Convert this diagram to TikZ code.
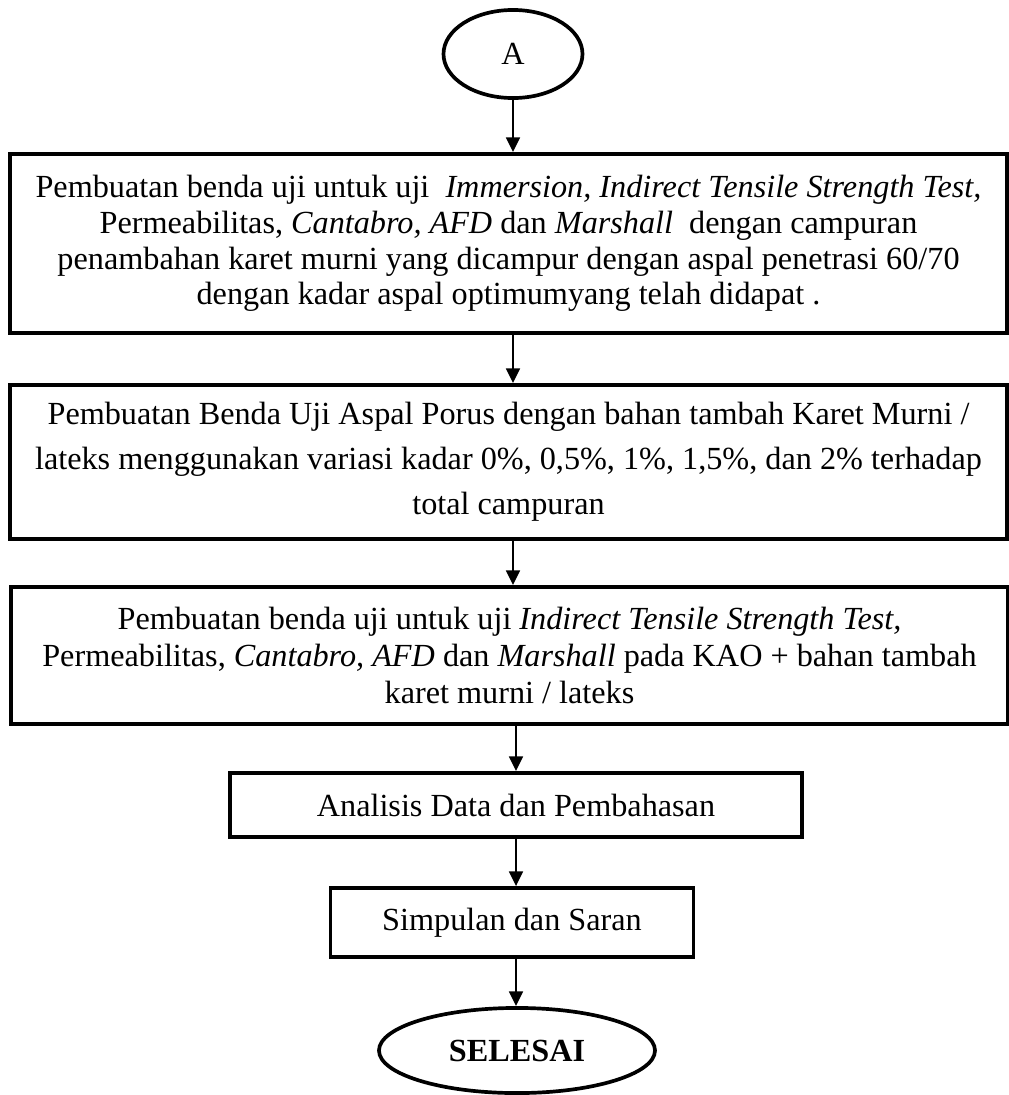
\documentclass[tikz,border=0pt]{standalone}
\usepackage{fontspec}
\setmainfont{Liberation Serif}
\usetikzlibrary{shapes.geometric,arrows.meta}

\begin{document}
\begin{tikzpicture}[x=0.4065pt,y=-0.4065pt]
	\tikzset{proses/.style={draw,line width=1.5pt,align=center,inner sep=0pt,font=\fontsize{13.1}{14.5}\selectfont}}
	\tikzset{terminal/.style={draw,ellipse,line width=1.5pt,inner sep=0pt,font=\fontsize{13.1}{14.5}\selectfont}}
	\tikzset{panah/.style={line width=1.2pt,-{Triangle[length=6pt,width=5.5pt]}}}
	\useasboundingbox (0,0) rectangle (1009,1095);
	\node[terminal,minimum width=56.5pt,minimum height=35.8pt] (mulai) at (513,54) {A};
	\node[proses,minimum width=405.3pt,minimum height=72.8pt] (uji1) at (508.5,243.5) {Pembuatan benda uji untuk uji\ \ \textit{Immersion, Indirect Tensile Strength Test,}\\ Permeabilitas, \textit{Cantabro, AFD} dan \textit{Marshall}\ \ dengan campuran\\ penambahan karet murni yang dicampur dengan aspal penetrasi 60/70\\ dengan kadar aspal optimumyang telah didapat .};
	\node[proses,minimum width=405.3pt,minimum height=62.6pt,font=\fontsize{13.1}{18.3}\selectfont] (uji2) at (508.5,462) {Pembuatan Benda Uji Aspal Porus dengan bahan tambah Karet Murni /\\ lateks menggunakan variasi kadar 0\%, 0,5\%, 1\%, 1,5\%, dan 2\% terhadap\\ total campuran};
	\node[proses,minimum width=405.3pt,minimum height=55.7pt,font=\fontsize{13.1}{15}\selectfont] (uji3) at (509.5,655.5) {Pembuatan benda uji untuk uji \textit{Indirect Tensile Strength Test,}\\ Permeabilitas, \textit{Cantabro, AFD} dan \textit{Marshall} pada KAO + bahan tambah\\ karet murni / lateks};
	\node[proses,minimum width=232.5pt,minimum height=26pt] (analisis) at (516,805) {Analisis Data dan Pembahasan};
	\node[proses,minimum width=147.6pt,minimum height=28pt] (simpulan) at (512,922.5) {Simpulan dan Saran};
	\node[terminal,minimum width=112.2pt,minimum height=34.6pt,font=\fontsize{13.1}{14.5}\selectfont\bfseries] (selesai) at (517,1050.5) {SELESAI};
	% alur
	\draw[panah] (mulai.south) -- (mulai.south |- uji1.north);
	\draw[panah] (uji1.south -| mulai) -- (uji2.north -| mulai);
	\draw[panah] (uji2.south -| mulai) -- (uji3.north -| mulai);
	\draw[panah] (uji3.south -| analisis) -- (analisis.north);
	\draw[panah] (analisis.south -| analisis) -- (simpulan.north -| analisis);
	\draw[panah] (simpulan.south -| analisis) -- (selesai.north -| analisis);
\end{tikzpicture}
\end{document}
